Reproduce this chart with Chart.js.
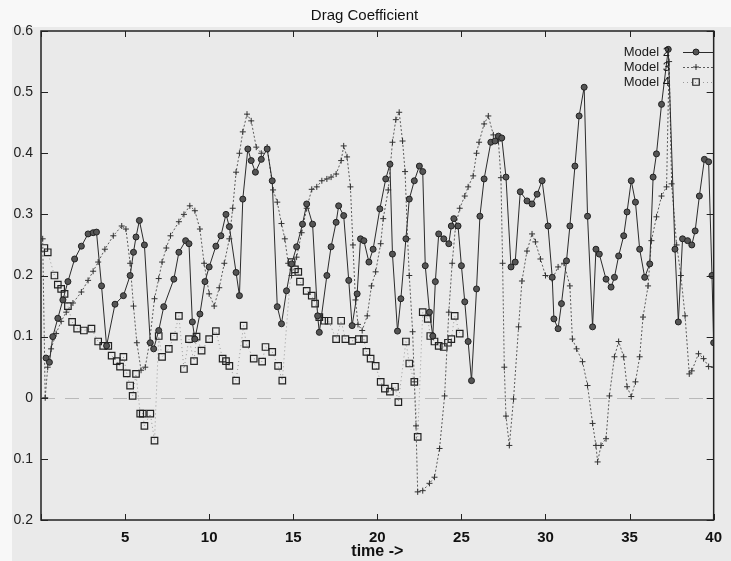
<!DOCTYPE html>
<html>
<head>
<meta charset="utf-8">
<script src="https://cdn.jsdelivr.net/npm/chart.js@4.4.1/dist/chart.umd.min.js"></script>
<style>
  html, body { margin: 0; padding: 0; background: #f7f7f7; }
  canvas { display: block; }
</style>
</head>
<body>
<canvas id="c" width="731" height="561"></canvas>
<script>
// ---------------- data ----------------
const chartTitle = 'Drag Coefficient';
const xAxisTitle = 'time ->';
const seriesNames = ['Model 2', 'Model 3', 'Model 4'];

const xTickValues = [0, 5, 10, 15, 20, 25, 30, 35, 40];
const xTickLabels = ['', '5', '10', '15', '20', '25', '30', '35', '40'];
const yTickValues = [-0.2, -0.1, 0, 0.1, 0.2, 0.3, 0.4, 0.5, 0.6];
const yTickLabels = ['0.2', '0.1', '0', '0.1', '0.2', '0.3', '0.4', '0.5', '0.6'];

const model2Time = [0.3,0.5,0.7,1.0,1.3,1.6,2.0,2.4,2.8,3.1,3.3,3.6,3.9,4.4,4.9,5.3,5.5,5.65,5.85,6.15,6.5,6.7,7.0,7.3,7.9,8.2,8.6,8.8,9.0,9.15,9.45,9.75,10.0,10.4,10.7,11.0,11.2,11.6,11.8,12.0,12.3,12.5,12.75,13.1,13.45,13.75,14.05,14.3,14.6,14.9,15.2,15.55,15.8,16.15,16.45,16.55,17.0,17.25,17.55,17.7,18.0,18.3,18.5,18.8,19.0,19.2,19.5,19.75,20.15,20.5,20.75,20.9,21.2,21.4,21.7,21.9,22.2,22.5,22.7,22.85,23.1,23.3,23.45,23.65,23.95,24.25,24.4,24.55,24.8,25.0,25.2,25.4,25.6,25.9,26.1,26.35,26.75,27.0,27.2,27.4,27.65,27.95,28.2,28.5,28.9,29.2,29.5,29.8,30.15,30.4,30.5,30.75,30.95,31.25,31.45,31.75,32.0,32.3,32.5,32.8,33.0,33.2,33.6,33.9,34.1,34.35,34.65,34.85,35.1,35.35,35.6,35.9,36.2,36.4,36.6,36.9,37.3,37.7,37.9,38.15,38.45,38.7,38.9,39.15,39.45,39.7,39.9,40.0];
const model2Value = [0.065,0.058,0.1,0.13,0.16,0.19,0.227,0.248,0.268,0.27,0.271,0.183,0.085,0.153,0.167,0.2,0.238,0.263,0.29,0.25,0.09,0.08,0.11,0.149,0.194,0.238,0.257,0.252,0.124,0.096,0.137,0.19,0.214,0.248,0.265,0.3,0.28,0.205,0.167,0.325,0.407,0.388,0.369,0.39,0.407,0.355,0.149,0.121,0.175,0.219,0.247,0.284,0.317,0.284,0.134,0.107,0.2,0.247,0.287,0.314,0.298,0.192,0.118,0.17,0.26,0.257,0.222,0.243,0.309,0.358,0.382,0.235,0.109,0.162,0.26,0.325,0.355,0.379,0.37,0.216,0.14,0.101,0.19,0.268,0.26,0.252,0.281,0.293,0.281,0.216,0.157,0.092,0.028,0.178,0.297,0.358,0.418,0.42,0.428,0.425,0.361,0.214,0.222,0.337,0.322,0.317,0.333,0.355,0.281,0.197,0.129,0.113,0.154,0.224,0.281,0.379,0.461,0.508,0.297,0.116,0.243,0.235,0.194,0.181,0.197,0.232,0.265,0.304,0.355,0.32,0.243,0.197,0.219,0.361,0.399,0.48,0.57,0.243,0.124,0.26,0.257,0.25,0.273,0.33,0.39,0.386,0.2,0.09];

const model3Time = [0.1,0.25,0.4,0.6,0.9,1.2,1.5,1.9,2.4,2.8,3.1,3.4,3.8,4.3,4.8,5.05,5.3,5.5,5.7,5.95,6.2,6.45,6.75,7.0,7.2,7.45,7.7,8.2,8.5,8.85,9.15,9.45,9.7,10.0,10.3,10.6,10.9,11.2,11.4,11.6,11.8,12.0,12.25,12.5,12.8,13.1,13.45,13.8,14.05,14.3,14.5,14.7,14.9,15.2,15.5,15.8,16.1,16.4,16.7,17.0,17.25,17.55,17.85,18.0,18.2,18.4,18.55,18.7,18.85,19.1,19.4,19.65,19.9,20.2,20.35,20.65,20.9,21.1,21.3,21.5,21.65,21.8,21.9,22.1,22.2,22.3,22.4,22.7,23.1,23.4,23.7,24.0,24.25,24.45,24.65,24.9,25.2,25.4,25.7,25.9,26.05,26.35,26.6,26.9,27.2,27.35,27.45,27.55,27.65,27.85,28.1,28.4,28.6,28.9,29.2,29.4,29.7,30.0,30.4,30.75,31.1,31.45,31.6,31.85,32.2,32.5,32.8,33.0,33.1,33.3,33.6,33.8,34.1,34.35,34.65,34.85,35.1,35.35,35.6,35.8,36.1,36.3,36.6,36.9,37.2,37.35,37.5,37.8,38.05,38.3,38.55,38.7,39.1,39.4,39.7,40.0];
const model3Value = [0.26,0.0,0.05,0.08,0.105,0.125,0.14,0.155,0.173,0.192,0.207,0.222,0.243,0.265,0.281,0.276,0.22,0.15,0.09,0.045,0.05,0.09,0.162,0.195,0.222,0.245,0.265,0.288,0.3,0.314,0.306,0.276,0.22,0.17,0.15,0.18,0.22,0.26,0.31,0.369,0.4,0.435,0.464,0.453,0.41,0.4,0.41,0.34,0.32,0.285,0.26,0.22,0.2,0.23,0.27,0.31,0.341,0.345,0.355,0.358,0.361,0.366,0.388,0.412,0.394,0.345,0.25,0.16,0.12,0.11,0.134,0.183,0.206,0.252,0.293,0.34,0.418,0.455,0.467,0.42,0.37,0.26,0.2,0.108,0.026,-0.046,-0.154,-0.152,-0.14,-0.13,-0.083,0.003,0.14,0.22,0.28,0.31,0.33,0.345,0.363,0.4,0.418,0.448,0.461,0.43,0.42,0.36,0.22,0.05,-0.03,-0.078,-0.002,0.116,0.191,0.24,0.268,0.255,0.227,0.2,0.194,0.214,0.22,0.183,0.096,0.08,0.059,0.02,-0.042,-0.078,-0.105,-0.078,-0.067,0.003,0.067,0.092,0.067,0.018,0.002,0.026,0.067,0.132,0.183,0.257,0.296,0.33,0.345,0.55,0.35,0.25,0.2,0.134,0.039,0.044,0.072,0.064,0.051,0.05];

const model4Time = [0.2,0.4,0.8,1.0,1.2,1.4,1.6,1.85,2.15,2.55,3.0,3.4,3.7,4.0,4.2,4.5,4.7,4.9,5.1,5.3,5.45,5.65,5.9,6.05,6.15,6.5,6.75,7.0,7.2,7.6,7.9,8.2,8.5,8.8,9.1,9.25,9.55,10.0,10.4,10.8,11.0,11.2,11.6,12.05,12.2,12.65,13.15,13.35,13.75,14.1,14.35,14.9,15.1,15.3,15.4,15.8,16.1,16.3,16.55,16.85,17.1,17.55,17.85,18.1,18.5,18.9,19.2,19.35,19.6,19.9,20.2,20.45,20.75,21.05,21.25,21.7,21.9,22.2,22.4,22.7,23.0,23.15,23.4,23.65,23.95,24.2,24.4,24.6,24.9];
const model4Value = [0.245,0.238,0.2,0.185,0.178,0.17,0.15,0.124,0.113,0.11,0.113,0.092,0.085,0.085,0.069,0.06,0.051,0.067,0.04,0.02,0.003,0.039,-0.026,-0.026,-0.046,-0.026,-0.07,0.101,0.067,0.08,0.1,0.134,0.047,0.096,0.06,0.1,0.077,0.096,0.109,0.064,0.06,0.052,0.028,0.118,0.088,0.064,0.059,0.083,0.075,0.052,0.028,0.222,0.21,0.206,0.19,0.175,0.167,0.154,0.132,0.126,0.126,0.096,0.126,0.096,0.093,0.096,0.096,0.075,0.064,0.052,0.026,0.015,0.01,0.018,-0.007,0.092,0.056,0.026,-0.064,0.14,0.129,0.101,0.092,0.085,0.083,0.09,0.096,0.134,0.105];

// ---------------- chart ----------------
const FONT = "'Liberation Sans', Arial, Helvetica, sans-serif";
const toXY = (xs, ys) => xs.map((x, i) => ({ x: x, y: ys[i] }));

const paperPlugin = {
  id: 'paper',
  beforeDraw(chart) {
    const ctx = chart.ctx;
    ctx.save();
    ctx.fillStyle = '#f8f8f8';
    ctx.fillRect(0, 0, chart.width, chart.height);
    ctx.fillStyle = '#eaeaea';
    ctx.fillRect(12, 27, chart.width - 12, chart.height - 27);
    ctx.restore();
  },
  beforeDatasetsDraw(chart) {
    // dashed zero axis
    const ctx = chart.ctx, a = chart.chartArea, y = chart.scales.y.getPixelForValue(0);
    ctx.save();
    ctx.strokeStyle = '#b9b9b9';
    ctx.lineWidth = 1;
    ctx.setLineDash([14, 10]);
    ctx.beginPath();
    ctx.moveTo(a.left, Math.round(y) + 0.5);
    ctx.lineTo(a.right, Math.round(y) + 0.5);
    ctx.stroke();
    ctx.restore();
  },
  afterDatasetsDraw(chart) {
    const ctx = chart.ctx, a = chart.chartArea, sx = chart.scales.x, sy = chart.scales.y;
    ctx.save();
    // frame
    ctx.strokeStyle = '#222';
    ctx.lineWidth = 1.5;
    ctx.setLineDash([]);
    ctx.strokeRect(a.left, a.top, a.right - a.left, a.bottom - a.top);
    // inward ticks on all sides
    ctx.lineWidth = 1;
    ctx.beginPath();
    xTickValues.forEach(v => {
      const px = Math.round(sx.getPixelForValue(v)) + 0.5;
      ctx.moveTo(px, a.bottom); ctx.lineTo(px, a.bottom - 6);
      ctx.moveTo(px, a.top); ctx.lineTo(px, a.top + 6);
    });
    yTickValues.forEach(v => {
      const py = Math.round(sy.getPixelForValue(v)) + 0.5;
      ctx.moveTo(a.left, py); ctx.lineTo(a.left + 7, py);
      ctx.moveTo(a.right, py); ctx.lineTo(a.right - 7, py);
    });
    ctx.stroke();
    // key (top right, gnuplot style: text, then sample)
    ctx.font = '13px ' + FONT;
    ctx.textAlign = 'right';
    ctx.textBaseline = 'middle';
    chart.data.datasets.forEach((ds, i) => {
      const y = 52 + i * 15;
      ctx.fillStyle = '#1a1a1a';
      ctx.fillText(ds.label, 670, y);
      ctx.strokeStyle = ds.borderColor;
      ctx.lineWidth = 1;
      ctx.setLineDash(ds.borderDash || []);
      ctx.beginPath();
      ctx.moveTo(683, y + 0.5); ctx.lineTo(713, y + 0.5);
      ctx.stroke();
      ctx.setLineDash([]);
      ctx.fillStyle = ds.pointBackgroundColor;
      ctx.strokeStyle = ds.pointBorderColor;
      ctx.lineWidth = ds.pointBorderWidth;
      Chart.helpers.drawPoint(ctx, { pointStyle: ds.pointStyle, radius: ds.pointRadius, rotation: 0, borderWidth: ds.pointBorderWidth }, 696, y);
    });
    ctx.restore();
  }
};

new Chart(document.getElementById('c'), {
  type: 'line',
  data: {
    datasets: [
      {
        label: seriesNames[0],
        data: toXY(model2Time, model2Value),
        borderColor: '#2b2b2b', borderWidth: 1, tension: 0,
        pointStyle: 'circle', pointRadius: 3,
        pointBackgroundColor: '#555', pointBorderColor: '#222', pointBorderWidth: 1
      },
      {
        label: seriesNames[1],
        data: toXY(model3Time, model3Value),
        borderColor: '#5a5a5a', borderWidth: 1, borderDash: [2, 2], tension: 0,
        pointStyle: 'cross', pointRadius: 3,
        pointBackgroundColor: '#333', pointBorderColor: '#333', pointBorderWidth: 1
      },
      {
        label: seriesNames[2],
        data: toXY(model4Time, model4Value),
        borderColor: '#9a9a9a', borderWidth: 1, borderDash: [1, 3], tension: 0,
        pointStyle: 'rect', pointRadius: 4.6,
        pointBackgroundColor: 'rgba(0,0,0,0)', pointBorderColor: '#222', pointBorderWidth: 1.2
      }
    ]
  },
  options: {
    responsive: false,
    animation: false,
    devicePixelRatio: 1,
    events: [],
    layout: { padding: { top: 0, right: 2, bottom: 0, left: 0 }, autoPadding: false },
    plugins: {
      legend: { display: false },
      tooltip: { enabled: false },
      title: {
        display: true, text: chartTitle, color: '#111',
        font: { family: FONT, size: 15, weight: 'normal', lineHeight: 1.2 },
        padding: { top: 7, bottom: 6 }
      }
    },
    scales: {
      x: {
        type: 'linear', min: 0, max: 40,
        afterBuildTicks: s => { s.ticks = xTickValues.map(v => ({ value: v })); },
        afterFit: s => { s.height = 41; },
        grid: { display: false, drawTicks: false },
        border: { display: false },
        ticks: {
          autoSkip: false, maxRotation: 0, padding: 9, color: '#111',
          font: { family: FONT, size: 15, weight: 'bold' },
          callback: (v, i) => xTickLabels[i]
        },
        title: {
          display: true, text: xAxisTitle, color: '#111',
          font: { family: FONT, size: 16, weight: 'bold', lineHeight: 1.1 },
          padding: { top: 0, bottom: 1 }
        }
      },
      y: {
        type: 'linear', min: -0.2, max: 0.6,
        afterBuildTicks: s => { s.ticks = yTickValues.map(v => ({ value: v })); },
        afterFit: s => { s.width = 41; },
        grid: { display: false, drawTicks: false },
        border: { display: false },
        ticks: {
          autoSkip: false, padding: 8, color: '#222',
          font: { family: FONT, size: 14 },
          callback: (v, i) => yTickLabels[i]
        }
      }
    }
  },
  plugins: [paperPlugin]
});
</script>
</body>
</html>
